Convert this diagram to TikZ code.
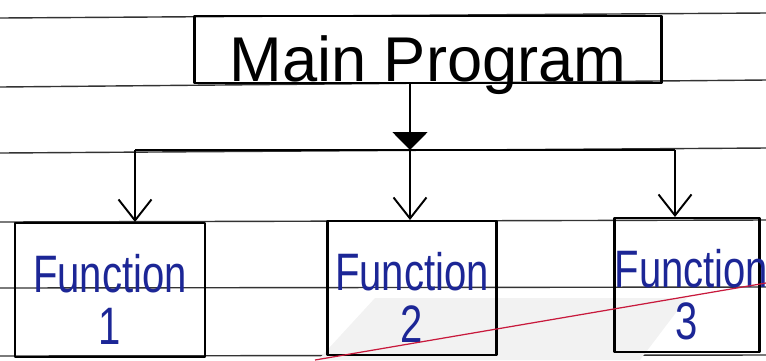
\documentclass[tikz,border=0pt]{standalone}
\usepackage{fontspec}
\setmainfont{Liberation Sans}
\newfontfamily\handnarrow[FakeStretch=0.76]{Liberation Sans}
\usetikzlibrary{arrows.meta, positioning}
\definecolor{inkblue}{RGB}{28,38,150}
\definecolor{redpen}{RGB}{200,25,60}

\begin{document}
\begin{tikzpicture}[
        x=0.02cm, y=-0.02cm,
        box/.style={rectangle, draw, line width=1.2pt, line join=round, inner sep=0pt, anchor=north},
        mainbox/.style={box, minimum width=9.34cm, text height=1.3cm, text depth=0.04cm, font=\fontsize{36}{36}\selectfont},
        funcbox/.style={box, align=center, text=inkblue, text height=1.38cm, text depth=1.3cm, font=\handnarrow\fontsize{30}{30}\selectfont},
        ruling/.style={black!80, line width=0.8pt},
        arrow/.style={line width=1.1pt, -{Straight Barb[length=0.42cm, width=0.66cm]}},
        bigarrow/.style={line width=1.1pt, -{Triangle[length=0.36cm, width=0.7cm]}}
    ]
        \useasboundingbox (0,0) rectangle (766,360);

        % Ruled paper
        \foreach \yl/\yr in {18/13, 87/80, 153/148, 222/220, 288/287, 356/355}
            \draw[ruling] (0,\yl) -- (766,\yr);
        \fill[gray!10] (318,360) -- (375,298) -- (687,298) -- (640,360) -- cycle;

        % Top
        \node[mainbox] (main) at (428,15) {Main Program};

        % Functions
        \node[funcbox, text width=3.8cm] (f1) at (110,222) {Function\\1};
        \node[funcbox, text width=3.38cm] (f2) at (412,220) {Function\\2};
        \node[funcbox, text width=2.9cm] (f3) at (687,217) {Function\\3};

        % Edges
        \coordinate (hub) at (410,150);
        \coordinate (busL) at (135,150);
        \coordinate (busR) at (675,150);
        \draw[bigarrow] (hub |- main.south) -- (hub);
        \draw[line width=1.1pt] (busL) -- (busR);
        \draw[arrow] (busL) -- (busL |- f1.north);
        \draw[arrow] (hub) -- (hub |- f2.north);
        \draw[arrow] (busR) -- (busR |- f3.north);

        % Red pen stroke
        \draw[redpen, line width=0.7pt] (315,360) -- (766,283);
    \end{tikzpicture}
\end{document}
